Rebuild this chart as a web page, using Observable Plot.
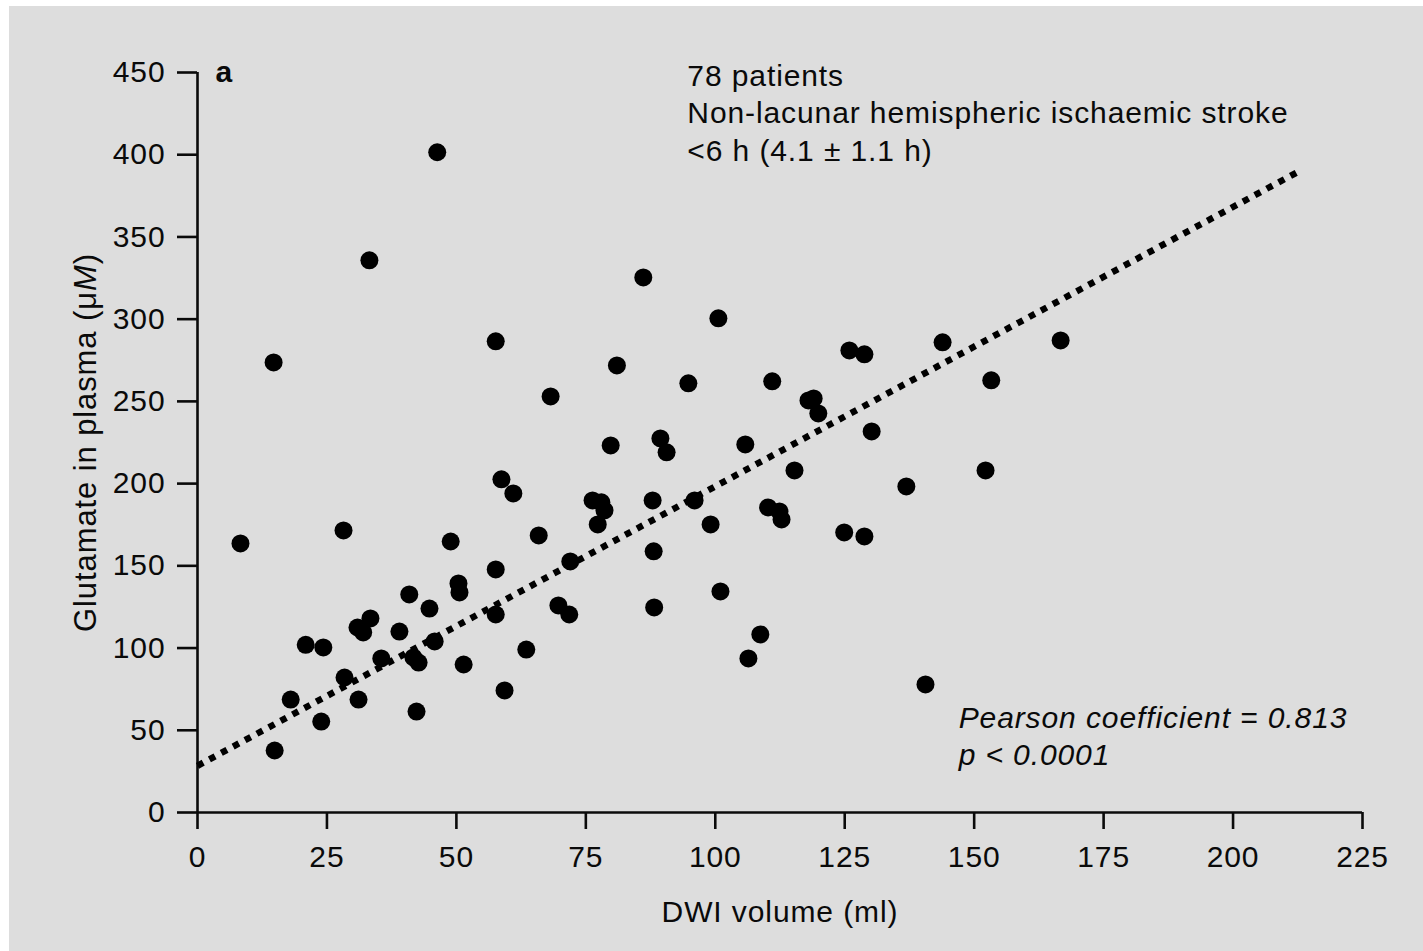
<!DOCTYPE html>
<html>
<head>
<meta charset="utf-8">
<script src="https://cdn.jsdelivr.net/npm/d3@7"></script>
<script src="https://cdn.jsdelivr.net/npm/@observablehq/plot@0.6"></script>
<style>
  html, body { margin: 0; padding: 0; background: #ffffff; }
  #wrap { padding: 6px 0 0 9px; width: 1414px; height: 945px; }
  #wrap svg { display: block; }
</style>
</head>
<body>
<div id="wrap"></div>
<script>
// DWI volume (ml) for each patient
const dwiVolume = [
  8.3, 14.7, 14.9, 18.0, 20.9, 24.3, 23.9, 28.2, 28.4, 31.1,
  30.9, 32.0, 33.4, 33.2, 35.5, 39.0, 40.9, 41.7, 42.7, 42.3,
  44.8, 45.8, 46.3, 48.9, 50.4, 50.6, 51.4, 57.6, 57.6, 57.6,
  58.7, 61.0, 59.3, 63.5, 65.9, 68.2, 69.7, 71.8, 72.0, 76.3,
  78.0, 78.6, 77.3, 79.8, 81.0, 86.1, 87.9, 88.1, 88.2, 89.4,
  90.6, 94.8, 96.0, 99.1, 100.6, 101.0, 105.8, 106.4, 108.7, 110.2,
  111.0, 112.4, 112.8, 115.3, 118.0, 119.0, 119.9, 124.9, 125.9, 128.8,
  128.8, 130.2, 136.9, 140.6, 143.9, 152.2, 153.3, 166.7
];
// Glutamate in plasma (µM) for each patient
const glutamate = [
  163.6, 273.7, 37.7, 68.7, 102.0, 100.4, 55.3, 171.5, 82.1, 68.7,
  112.5, 109.5, 118.0, 335.8, 93.7, 110.0, 132.6, 94.3, 91.2, 61.4,
  124.0, 104.0, 401.5, 164.8, 139.3, 133.8, 90.0, 147.8, 120.4, 286.5,
  202.6, 194.0, 74.2, 99.1, 168.5, 253.0, 125.9, 120.4, 152.7, 189.8,
  188.6, 183.7, 175.2, 223.2, 271.9, 325.4, 189.8, 158.8, 124.7, 227.5,
  219.0, 261.0, 189.8, 175.2, 300.5, 134.4, 223.8, 93.7, 108.3, 185.5,
  262.2, 183.1, 178.2, 208.0, 250.6, 251.8, 242.7, 170.3, 281.0, 278.6,
  167.9, 231.7, 198.3, 77.9, 285.9, 208.0, 262.8, 287.1
];
// Regression line end points
const fitX = [0, 212.8];
const fitY = [28.4, 390.0];

const xTicks = [0, 25, 50, 75, 100, 125, 150, 175, 200, 225];
const yTicks = [0, 50, 100, 150, 200, 250, 300, 350, 400, 450];

const xLabel = "DWI volume (ml)";
const yLabel = "Glutamate in plasma (μM)";
const panelLabel = "a";
const infoLines = ["78 patients", "Non-lacunar hemispheric ischaemic stroke", "<6 h (4.1 ± 1.1 h)"];
const infoY = [447.6, 425.0, 402.1];
const infoX = 94.6;
const statLines = ["Pearson coefficient = 0.813", "p < 0.0001"];
const statY = [57.2, 34.7];
const statX = 147.0;

const points = dwiVolume.map((x, i) => ({x, y: glutamate[i]}));
const fit = fitX.map((x, i) => ({x, y: fitY[i]}));
const info = infoLines.map((t, i) => ({t, x: infoX, y: infoY[i]}));
const stats = statLines.map((t, i) => ({t, x: statX, y: statY[i]}));

const FONT = "'Liberation Sans', Arial, Helvetica, sans-serif";

const chart = Plot.plot({
  width: 1414,
  height: 945,
  marginLeft: 188,
  marginRight: 61,
  marginTop: 66,
  marginBottom: 139,
  style: {background: "#dddddd", fontFamily: FONT, fontSize: "30px", color: "#0a0a0a", letterSpacing: "0.9px", overflow: "visible"},
  x: {domain: [0, 225]},
  y: {domain: [0, 450]},
  marks: [
    Plot.axisX(xTicks, {tickSize: 17, tickPadding: 16, fontSize: 30, strokeWidth: 2.6, label: null, tickFormat: d => String(d)}),
    Plot.axisY(yTicks, {tickSize: 20, tickPadding: 12, fontSize: 30, strokeWidth: 2.6, label: null, tickFormat: d => String(d)}),
    Plot.ruleX([0], {strokeWidth: 2.6}),
    Plot.ruleY([0], {strokeWidth: 2.6}),
    Plot.line(fit, {x: "x", y: "y", stroke: "#000", strokeWidth: 6.5, strokeDasharray: "6.5,7", strokeLinecap: "butt"}),
    Plot.dot(points, {x: "x", y: "y", r: 9, fill: "#000", stroke: "none"}),
    Plot.text([panelLabel], {x: 3.5, y: 450, text: d => d, textAnchor: "start", fontWeight: "bold", fontSize: 30, lineAnchor: "middle"}),
    Plot.text(info, {x: "x", y: "y", text: "t", textAnchor: "start", fontSize: 30, lineAnchor: "middle"}),
    Plot.text(stats, {x: "x", y: "y", text: "t", textAnchor: "start", fontSize: 30, fontStyle: "italic", lineAnchor: "middle"}),
    Plot.text([xLabel], {frameAnchor: "bottom", dy: 100, text: d => d, fontSize: 30, lineAnchor: "middle", textAnchor: "middle"}),
    Plot.text([yLabel], {frameAnchor: "left", dx: -111, rotate: -90, text: d => d, fontSize: 31, lineAnchor: "middle", textAnchor: "middle"})
  ]
});

document.getElementById("wrap").appendChild(chart);

// Italicise the "M" of µM in the y-axis label
d3.select(chart).selectAll("text").each(function() {
  const el = d3.select(this);
  if (el.text() === yLabel) {
    el.text(null);
    el.append("tspan").text("Glutamate in plasma (μ");
    el.append("tspan").attr("font-style", "italic").text("M");
    el.append("tspan").text(")");
  }
});
</script>
</body>
</html>
